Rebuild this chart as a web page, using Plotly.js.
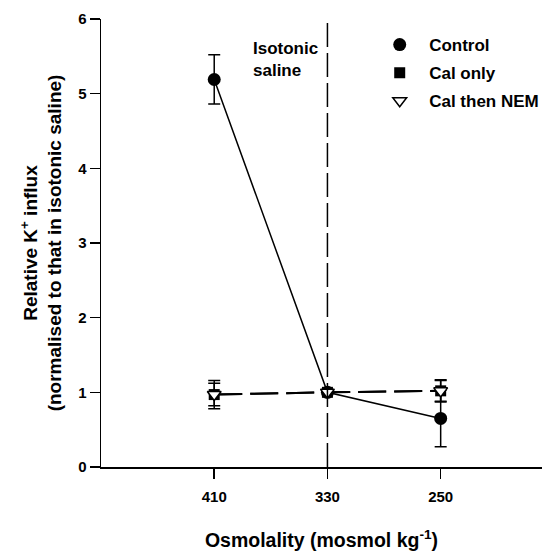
<!DOCTYPE html>
<html>
<head>
<meta charset="utf-8">
<script src="https://cdn.plot.ly/plotly-3.0.1.min.js"></script>
<style>html,body{margin:0;padding:0;background:#fff;}#chart{width:545px;height:552px;}</style>
</head>
<body>
<div id="chart"></div>
<script>
// Data
var osmolality = [410, 330, 250];
var tickLabels = ['410', '330', '250'];
var control = [5.19, 1.0, 0.65];
var controlErr = [0.33, 0, 0.38];
var calOnly = [0.97, 1.0, 1.02];
var calOnlyErr = [0.15, 0, 0.14];
var calNem = [0.97, 1.0, 1.02];
var calNemErr = [0.19, 0, 0.15];
var isotonic = 330;
var seriesNames = ['Control', 'Cal only', 'Cal then NEM'];

var FAM = 'Liberation Sans, Arial, sans-serif';
var NB = '\u00a0\u00a0';

function errObj(arr) {
  return {type: 'data', array: arr, visible: true, color: '#000', thickness: 1.5, width: 6};
}

var traces = [
  // lines (no legend)
  {x: osmolality, y: calOnly, mode: 'lines', showlegend: false, hoverinfo: 'skip',
   line: {color: '#000', width: 2, dash: '28px,8px'}},
  {x: osmolality, y: calNem, mode: 'lines', showlegend: false, hoverinfo: 'skip',
   line: {color: '#000', width: 2, dash: '28px,8px'}},
  {x: osmolality, y: control, mode: 'lines', showlegend: false, hoverinfo: 'skip',
   line: {color: '#000', width: 1.5}},
  // markers (legend)
  {x: osmolality, y: control, mode: 'markers', name: NB + seriesNames[0], legendgroup: 'a',
   marker: {symbol: 'circle', size: 13, color: '#000'}, error_y: errObj(controlErr), cliponaxis: false},
  {x: osmolality, y: calOnly, mode: 'markers', name: NB + seriesNames[1], legendgroup: 'b',
   marker: {symbol: 'square', size: 11, color: '#000'}, error_y: errObj(calOnlyErr), cliponaxis: false},
  {x: osmolality, y: calNem, mode: 'markers', name: NB + seriesNames[2], legendgroup: 'c',
   marker: {symbol: 'triangle-down', size: 12, color: '#fff', line: {color: '#000', width: 1.5}},
   error_y: errObj(calNemErr), cliponaxis: false}
];

var layout = {
  width: 545, height: 552,
  margin: {l: 101, r: 0, t: 19, b: 85},
  paper_bgcolor: '#fff', plot_bgcolor: '#fff',
  font: {family: FAM, size: 16, color: '#000', weight: 'bold'},
  showlegend: true,
  legend: {x: 0.632, y: 0.982, xanchor: 'left', yanchor: 'top', traceorder: 'grouped',
           tracegroupgap: 3, font: {family: FAM, size: 17, weight: 'bold', color: '#000'},
           bgcolor: 'rgba(0,0,0,0)'},
  xaxis: {
    range: [490, 178.4],
    tickmode: 'array', tickvals: osmolality, ticktext: tickLabels,
    ticks: 'outside', ticklen: 10, tickwidth: 1.5, tickcolor: '#000',
    ticklabelstandoff: 5,
    showline: true, linecolor: '#000', linewidth: 1.5,
    showgrid: false, zeroline: false,
    tickfont: {family: FAM, size: 15, weight: 'bold', color: '#000'},
    title: {text: 'Osmolality (mosmol kg<sup>-1</sup>)', standoff: 30,
            font: {family: FAM, size: 19.5, weight: 'bold', color: '#000'}}
  },
  yaxis: {
    range: [0, 6],
    tickmode: 'array', tickvals: [0, 1, 2, 3, 4, 5, 6],
    ticks: 'outside', ticklen: 10, tickwidth: 1.5, tickcolor: '#000',
    showline: true, linecolor: '#000', linewidth: 1.5,
    showgrid: false, zeroline: false,
    tickfont: {family: FAM, size: 15, weight: 'bold', color: '#000'},
    title: {text: 'Relative K<sup>+</sup> influx<br>(normalised to that in isotonic saline)', standoff: 11,
            font: {family: FAM, size: 19, weight: 'bold', color: '#000'}}
  },
  shapes: [
    {type: 'line', xref: 'x', yref: 'y', x0: isotonic, x1: isotonic, y0: 0, y1: 6,
     line: {color: '#000', width: 1.5, dash: '24px,6px'}}
  ],
  annotations: [
    {xref: 'x', yref: 'y', x: 384, y: 5.76, xanchor: 'left', yanchor: 'top', align: 'left',
     text: 'Isotonic<br>saline', showarrow: false,
     font: {family: FAM, size: 17, weight: 'bold', color: '#000'}}
  ]
};

Plotly.newPlot('chart', traces, layout, {displayModeBar: false, staticPlot: true});
</script>
</body>
</html>
